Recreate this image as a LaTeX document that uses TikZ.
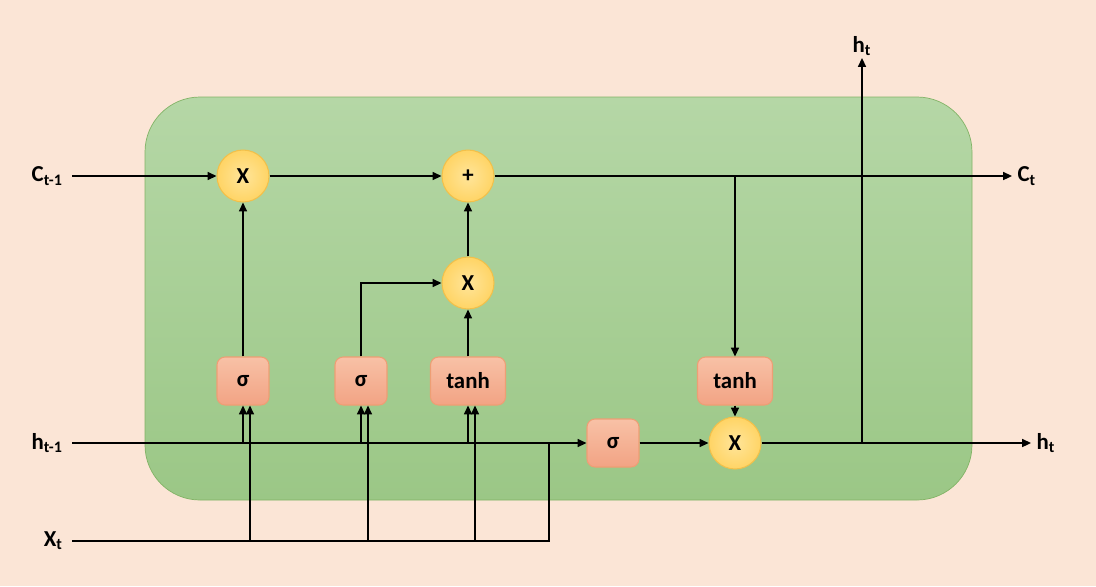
\documentclass[tikz,border=0pt]{standalone}
\usepackage{fontspec}
\setmainfont{Carlito}
\usetikzlibrary{arrows.meta}
\definecolor{bgpeach}{HTML}{FBE5D6}
\definecolor{celltop}{HTML}{B5D7A6}
\definecolor{cellbot}{HTML}{9BC786}
\definecolor{celledge}{HTML}{82B366}
\definecolor{opin}{HTML}{FFE59A}
\definecolor{opout}{HTML}{FFD465}
\definecolor{opedge}{HTML}{F2C04A}
\definecolor{gatetop}{HTML}{F8C1A6}
\definecolor{gatebot}{HTML}{F2A384}
\definecolor{gateedge}{HTML}{EE9E74}
\begin{document}
\begin{tikzpicture}[x=0.02cm, y=-0.02cm, >={Triangle[length=5pt,width=4.5pt]},
    font=\fontsize{13}{15}\selectfont\bfseries,
    opcirc/.style={circle, draw=opedge, line width=0.6pt, inner color=opin,
        outer color=opout, minimum size=1.04cm, inner sep=0pt},
    gatebox/.style={rectangle, rounded corners=0.16cm, draw=gateedge, line width=0.6pt,
        top color=gatetop, bottom color=gatebot, minimum width=1.04cm,
        minimum height=0.96cm, inner sep=2pt},
    lbl/.style={inner xsep=5pt, inner ysep=1pt},
    wire/.style={line width=1pt}]
    % background and cell
    \fill[bgpeach] (0,0) rectangle (1096,586);
    \useasboundingbox (0,0) rectangle (1096,586);
    \shadedraw[top color=celltop, bottom color=cellbot, draw=celledge,
        rounded corners=1.1cm] (145,97) rectangle (972,500);
    % operations and gates
    \node[opcirc] (mulf) at (243,176) {X};
    \node[opcirc] (add) at (468,176) {+};
    \node[opcirc] (muli) at (468,283) {X};
    \node[opcirc] (mulo) at (735,443) {X};
    \node[gatebox] (forget) at (243,381) {σ};
    \node[gatebox] (inputg) at (361,381) {σ};
    \node[gatebox, minimum width=1.5cm] (cand) at (468,381) {tanh};
    \node[gatebox] (outg) at (613,443) {σ};
    \node[gatebox, minimum width=1.5cm] (tanhc) at (735,381) {tanh};
    % inputs and outputs
    \node[lbl, anchor=east] (cprev) at (72,176) {C\textsubscript{t-1}};
    \node[lbl, anchor=east] (hprev) at (72,443) {h\textsubscript{t-1}};
    \node[lbl, anchor=east] (xin) at (72,541) {X\textsubscript{t}};
    \node[lbl, inner xsep=3pt, anchor=west] (cout) at (1012,176) {C\textsubscript{t}};
    \node[lbl, inner xsep=3pt, anchor=west] (hout) at (1031,443) {h\textsubscript{t}};
    \node[inner sep=1pt, anchor=south] (htop) at (862,58) {h\textsubscript{t}};
    \coordinate (csplit) at (735,176);
    \coordinate (hsplit) at (862,443);
    \coordinate (xjoin) at (549,541);
    % cell state
    \draw[wire,->] (cprev) -- (mulf);
    \draw[wire,->] (mulf) -- (add);
    \draw[wire,->] (add) -- (cout);
    \draw[wire,->] (csplit) -- (tanhc);
    \draw[wire,->] (tanhc) -- (mulo);
    % gates
    \draw[wire,->] (forget) -- (mulf);
    \draw[wire,->] (inputg) |- (muli);
    \draw[wire,->] (cand) -- (muli);
    \draw[wire,->] (muli) -- (add);
    \draw[wire,->] (hprev) -- (outg);
    \draw[wire,->] (outg) -- (mulo);
    \draw[wire,->] (mulo) -- (hout);
    \draw[wire,->] (hsplit) -- (htop);
    \draw[wire] (xin) -- (xjoin) -- (xjoin |- hprev);
    \foreach \g in {forget,inputg,cand}{
        \draw[wire,->] (\g.south |- hprev) -- (\g.south);
        \path (\g.south) ++(7,0) coordinate (\g-x);
        \draw[wire,->] (\g-x |- xin) -- (\g-x);
    }
\end{tikzpicture}
\end{document}
